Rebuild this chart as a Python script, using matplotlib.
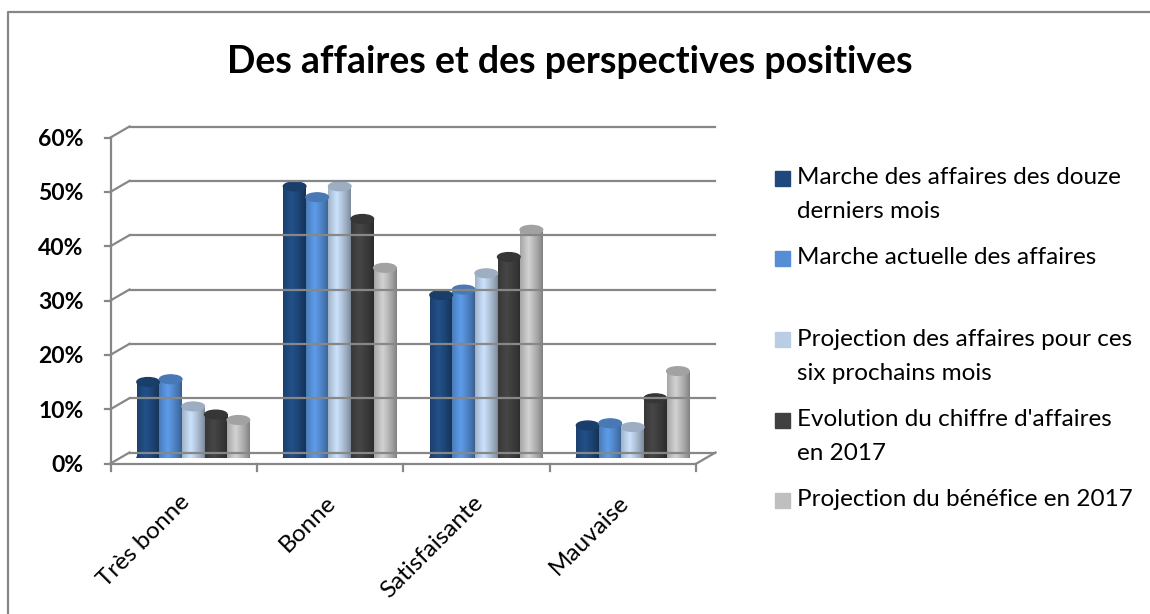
import numpy as np
import matplotlib.pyplot as plt
from matplotlib.patches import Ellipse, Rectangle
from matplotlib.lines import Line2D
from matplotlib.transforms import ScaledTranslation
from matplotlib.colors import to_rgb

categories = ["Très bonne", "Bonne", "Satisfaisante", "Mauvaise"]
series_names = [
    "Marche des affaires des douze\nderniers mois",
    "Marche actuelle des affaires",
    "Projection des affaires pour ces\nsix prochains mois",
    "Evolution du chiffre d'affaires\nen 2017",
    "Projection du bénéfice en 2017",
]
douze_mois = [0.14, 0.50, 0.30, 0.06]
actuelle = [0.145, 0.48, 0.31, 0.064]
six_mois = [0.095, 0.50, 0.34, 0.057]
chiffre_2017 = [0.08, 0.44, 0.37, 0.11]
benefice_2017 = [0.07, 0.35, 0.42, 0.16]
series_values = [douze_mois, actuelle, six_mois, chiffre_2017, benefice_2017]
colors = ["#1F497D", "#558ED5", "#B9CDE5", "#404040", "#BFBFBF"]
y_ticks = [0, 0.1, 0.2, 0.3, 0.4, 0.5, 0.6]

plt.rcParams['font.family'] = ['Lato', 'DejaVu Sans']

W, H = 1150, 614
fig = plt.figure(figsize=(W / 100, H / 100), dpi=100)

# axes = mid-depth plane of the fake 3D box
ax = fig.add_axes([120 / W, 156 / H, 586 / W, 326 / H])
ax.set_xlim(-0.5, 3.5)
ax.set_ylim(0, 0.6)
ax.axis('off')

grid_col = "#878787"
dx, dy = 0.095, 0.055  # half depth offset, inches
back = ax.transData + ScaledTranslation(dx, dy, fig.dpi_scale_trans)
front = ax.transData + ScaledTranslation(-dx, -dy, fig.dpi_scale_trans)

def depth_line(x0, y0, x1, y1, t0, t1):
    p0 = t0.transform((x0, y0))
    p1 = t1.transform((x1, y1))
    fig.add_artist(Line2D([p0[0], p1[0]], [p0[1], p1[1]], transform=None,
                          color=grid_col, lw=1.6, zorder=1))

for y in y_ticks:
    depth_line(-0.5, y, 3.5, y, back, back)
    depth_line(-0.5, y, -0.5, y, front, back)
    p = front.transform((-0.5, y))
    fig.add_artist(Line2D([p[0] - 6, p[0]], [p[1], p[1]], transform=None,
                          color=grid_col, lw=1.6))
    ax.text(-0.5, y, f"{int(round(y * 100))}%",
            transform=front + ScaledTranslation(-0.27, -0.02, fig.dpi_scale_trans),
            ha='right', va='center', fontsize=16.5, fontweight='bold', color='black')

depth_line(-0.5, 0, -0.5, 0.6, front, front)
depth_line(-0.5, 0, 3.5, 0, front, front)
depth_line(3.5, 0, 3.5, 0, front, back)
for xt in np.arange(-0.5, 4, 1.0):
    p = front.transform((xt, 0))
    fig.add_artist(Line2D([p[0], p[0]], [p[1], p[1] - 7], transform=None,
                          color=grid_col, lw=1.6))

# cylinders
n = len(series_values)
bw = 0.154
cap_h = 0.016
grad = np.linspace(0, 1, 64)
shade = 0.6 + 0.4 * np.clip(1 - np.abs(grad - 0.38) / 0.62, 0, 1) ** 0.8
for i, (vals, c) in enumerate(zip(series_values, colors)):
    rgb = np.array(to_rgb(c))
    img = np.clip(rgb[None, :] * shade[:, None] * 1.1, 0, 1)[None, :, :]
    for j, v in enumerate(vals):
        x0 = j - n * bw / 2 + i * bw
        ax.imshow(img, extent=(x0, x0 + bw, 0, v), aspect='auto', zorder=3,
                  interpolation='bilinear')
        ax.add_patch(Ellipse((x0 + bw / 2, 0), bw, cap_h, color=tuple(rgb * 0.9), zorder=2.9))
        ax.add_patch(Ellipse((x0 + bw / 2, v), bw, cap_h,
                             color=tuple(np.clip(rgb * 0.85, 0, 1)), zorder=4))

ax.set_xlim(-0.5, 3.5)
ax.set_ylim(0, 0.6)

for j, cat in enumerate(categories):
    ax.text(j, 0, cat, transform=front + ScaledTranslation(-0.05, -0.28, fig.dpi_scale_trans),
            rotation=45, rotation_mode='anchor', ha='right', va='top', fontsize=17.5)

fig.text(570 / W, 1 - 62 / H, "Des affaires et des perspectives positives",
         ha='center', va='center', fontsize=27, fontweight='bold')

# legend, drawn by hand to keep Excel's uneven spacing
text_y = [178, 258, 339, 420, 500]
for name, c, ty in zip(series_names, colors, text_y):
    fig.patches.append(Rectangle((775 / W, 1 - (ty + 8) / H), 15 / W, 15 / H,
                                 transform=fig.transFigure, color=c))
    for k, line in enumerate(name.split("\n")):
        fig.text(797 / W, 1 - (ty + 34 * k) / H, line, ha='left', va='center',
                 fontsize=17.5)

# outer frame (only left and top edges are visible)
fig.add_artist(Line2D([8 / W, 8 / W, 1], [0, 1 - 12 / H, 1 - 12 / H], color=grid_col, lw=1.6))

fig.savefig("out.png", dpi=100)
